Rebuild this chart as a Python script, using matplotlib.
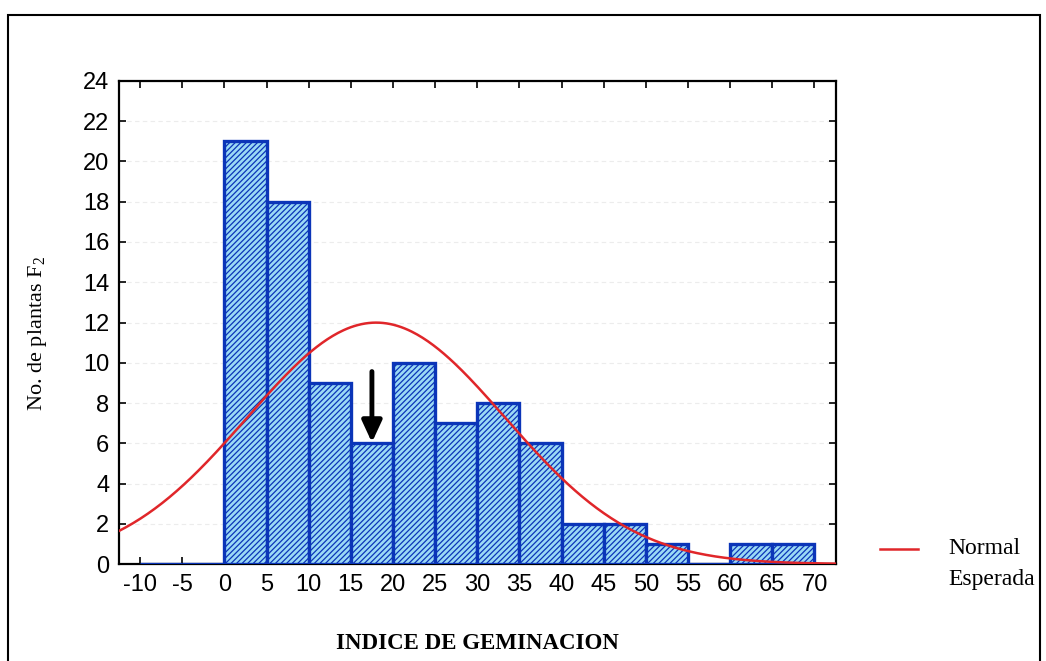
import numpy as np
import matplotlib.pyplot as plt
from matplotlib.patches import Rectangle
from matplotlib.lines import Line2D

# histogram: bin left edges and counts
bin_left = [-10, -5, 0, 5, 10, 15, 20, 25, 30, 35, 40, 45, 50, 55, 60, 65]
counts = [0, 0, 21, 18, 9, 6, 10, 7, 8, 6, 2, 2, 1, 0, 1, 1]
bin_width = 5
# expected normal fit
mean_ig = 18.0
sd_ig = 15.3
n_total = sum(counts)
xticks = list(range(-10, 75, 5))
yticks = list(range(0, 26, 2))

plt.rcParams['hatch.color'] = '#3b8ddb'
plt.rcParams['hatch.linewidth'] = 0.9
plt.rcParams['axes.unicode_minus'] = False
plt.rcParams['mathtext.fontset'] = 'custom'
plt.rcParams['mathtext.rm'] = 'Liberation Serif'

fig = plt.figure(figsize=(10.46, 6.61), dpi=100)
ax = fig.add_axes([0.1138, 0.1467, 0.685, 0.7308])

ax.bar(bin_left, counts, width=bin_width, align='edge', color='#9ad9f5',
       edgecolor='#0b35b8', linewidth=2.4, hatch='//////', zorder=2.6)

xs = np.linspace(-12.5, 72.5, 400)
ys = n_total * bin_width / (sd_ig * np.sqrt(2 * np.pi)) * np.exp(-(xs - mean_ig) ** 2 / (2 * sd_ig ** 2))
ax.plot(xs, ys, color='#e0262a', linewidth=1.8, zorder=3)

ax.annotate('', xy=(17.5, 5.9), xytext=(17.5, 9.7),
            arrowprops=dict(arrowstyle='-|>,head_width=0.6,head_length=1.3',
                            color='black', linewidth=3.5), zorder=4)

ax.set_xlim(-12.5, 72.5)
ax.set_ylim(0, 24)
ax.set_xticks(xticks)
ax.set_yticks(yticks)
ax.tick_params(direction='in', top=True, right=True, length=5, width=1.2,
               labelsize=17, pad=7)
for lab in ax.get_xticklabels() + ax.get_yticklabels():
    lab.set_family('Liberation Sans')
ax.yaxis.grid(True, color='#ececec', linestyle=(0, (4, 3)), linewidth=0.8)
ax.set_axisbelow(True)
for s in ax.spines.values():
    s.set_linewidth(1.6)

ax.set_xlabel('INDICE DE GEMINACION', family='Liberation Serif', fontweight='bold',
              fontsize=16.5, labelpad=27)
ax.set_ylabel('No. de plantas F$_\\mathregular{2}$', family='Liberation Serif', fontsize=16)
ax.yaxis.set_label_coords(-0.098, 0.477)

# legend outside
fig.add_artist(Line2D([880 / 1046, 918 / 1046], [1 - 549 / 661, 1 - 549 / 661],
                      color='#e0262a', linewidth=1.8))
fig.text(948 / 1046, 1 - 549 / 661, 'Normal', family='Liberation Serif', fontsize=17, va='center')
fig.text(948 / 1046, 1 - 579 / 661, 'Esperada', family='Liberation Serif', fontsize=17, va='center')

# outer frame
fig.add_artist(Rectangle((8 / 1046, -0.01), 1032 / 1046, 1 - 15 / 661 + 0.01,
                         transform=fig.transFigure, fill=False, edgecolor='black', linewidth=1.5))

fig.savefig('out.png', dpi=100)
